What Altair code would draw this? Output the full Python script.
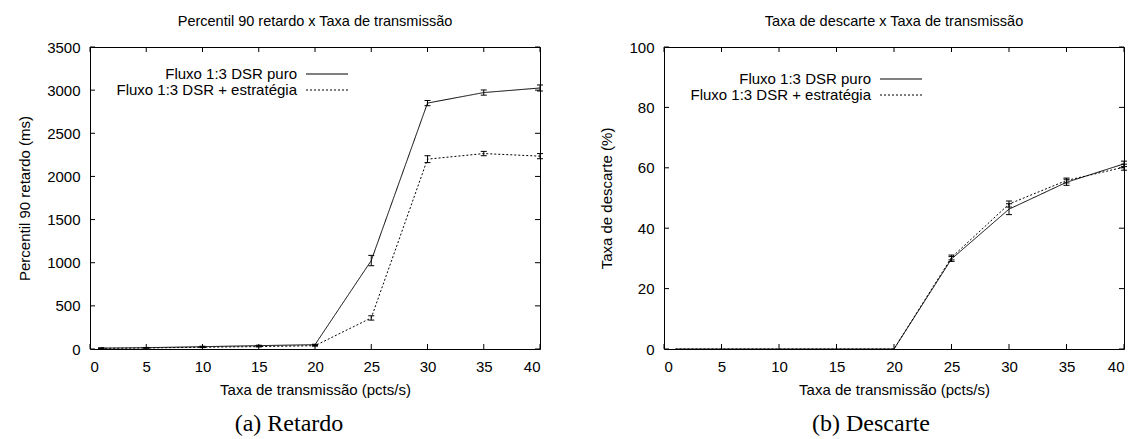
import altair as alt
import pandas as pd

# ---------------- data ----------------
x_vals = [1, 5, 10, 15, 20, 25, 30, 35, 40]

ret_puro = [10, 15, 27, 39, 50, 1025, 2850, 2972, 3025]
ret_puro_err = [3, 3, 5, 5, 5, 60, 30, 30, 35]
ret_estr = [8, 12, 20, 28, 38, 360, 2200, 2265, 2235]
ret_estr_err = [3, 3, 4, 4, 5, 25, 40, 25, 30]

desc_puro = [0, 0, 0, 0, 0, 29.8, 46.3, 55.2, 61.3]
desc_puro_err = [0, 0, 0, 0, 0, 0.8, 1.8, 1.0, 0.9]
desc_estr = [0, 0, 0, 0, 0, 30.3, 48.0, 55.8, 60.2]
desc_estr_err = [0, 0, 0, 0, 0, 0.8, 1.0, 0.8, 1.0]

series = ["Fluxo 1:3 DSR puro", "Fluxo 1:3 DSR + estratégia"]
x_ticks = [0, 5, 10, 15, 20, 25, 30, 35, 40]
ret_ticks = [0, 500, 1000, 1500, 2000, 2500, 3000, 3500]
desc_ticks = [0, 20, 40, 60, 80, 100]

FONT = "Liberation Sans"
H = 302
TICK = 5
XTITLE = "Taxa de transmissão (pcts/s)"


def make_df(a, ea, b, eb):
    rows = []
    for s, vals, errs in [(series[0], a, ea), (series[1], b, eb)]:
        for x, v, e in zip(x_vals, vals, errs):
            rows.append({"x": x, "y": v, "lo": v - e, "hi": v + e, "err": e, "serie": s})
    return pd.DataFrame(rows)


def panel(df, ymax, yticks, W, title, ytitle, caption, cap_x, leg_dy):
    xs = alt.Scale(domain=[0, 40], nice=False)
    ys = alt.Scale(domain=[0, ymax], nice=False)
    xax = alt.Axis(values=x_ticks, title=XTITLE, format="d")
    yax = alt.Axis(values=yticks, title=ytitle, format="d")

    def X(f):
        return alt.X(f, scale=xs, axis=xax)

    def Y(f):
        return alt.Y(f, scale=ys, axis=yax)

    base = alt.Chart(df)
    lines = base.mark_line(color="black", strokeWidth=1).encode(
        x=X("x:Q"), y=Y("y:Q"),
        strokeDash=alt.StrokeDash("serie:N", scale=alt.Scale(domain=series, range=[[1, 0], [2, 2]]), legend=None),
        detail="serie:N",
    )
    edf = base.transform_filter("datum.err > 0")
    err = edf.mark_rule(color="black", strokeWidth=1).encode(x=X("x:Q"), y=Y("lo:Q"), y2="hi:Q")
    cap_shape = "M-1,0L1,0"
    cap_lo = edf.mark_point(shape=cap_shape, size=36, color="black", strokeWidth=1, filled=False, opacity=1).encode(
        x=X("x:Q"), y=Y("lo:Q"))
    cap_hi = edf.mark_point(shape=cap_shape, size=36, color="black", strokeWidth=1, filled=False, opacity=1).encode(
        x=X("x:Q"), y=Y("hi:Q"))

    xt = alt.Chart(pd.DataFrame({"x": x_ticks}))
    yt = alt.Chart(pd.DataFrame({"y": yticks}))
    xtb = xt.mark_rule(color="black").encode(x=X("x:Q"), y=alt.value(H), y2=alt.value(H - TICK))
    xtt = xt.mark_rule(color="black").encode(x=X("x:Q"), y=alt.value(0), y2=alt.value(TICK))
    ytl = yt.mark_rule(color="black").encode(y=Y("y:Q"), x=alt.value(0), x2=alt.value(TICK))
    ytr = yt.mark_rule(color="black").encode(y=Y("y:Q"), x=alt.value(W), x2=alt.value(W - TICK))

    def txt(s, dy):
        return alt.Chart(pd.DataFrame({"s": [s]})).mark_text(
            align="right", baseline="middle", font=FONT, fontSize=15, color="black").encode(
            text="s:N", x=alt.value(207), y=alt.value(dy))

    def sample(dash, dy):
        kw = {"strokeDash": dash} if dash else {}
        return alt.Chart(pd.DataFrame({"s": [0]})).mark_rule(color="black", strokeWidth=1, **kw).encode(
            x=alt.value(216), x2=alt.value(258), y=alt.value(dy))

    t0 = txt(series[0], leg_dy)
    t1 = txt(series[1], leg_dy + 16)
    l0 = sample(None, leg_dy)
    l1 = sample([2, 2], leg_dy + 16)

    cap = alt.Chart(pd.DataFrame({"c": [caption]})).mark_text(
        align="center", baseline="middle", font="Liberation Serif", fontSize=24, color="black").encode(
        text="c:N", x=alt.value(cap_x), y=alt.value(H + 75))

    return alt.layer(lines, err, cap_lo, cap_hi, xtb, xtt, ytl, ytr, t0, t1, l0, l1, cap).properties(
        width=W, height=H,
        title=alt.TitleParams(title, font=FONT, fontSize=14.5, fontWeight="normal", color="black", offset=11),
    )


left = panel(make_df(ret_puro, ret_puro_err, ret_estr, ret_estr_err), 3500, ret_ticks, 450,
             "Percentil 90 retardo x Taxa de transmissão", "Percentil 90 retardo (ms)", "(a) Retardo", 199, 27)
right = panel(make_df(desc_puro, desc_puro_err, desc_estr, desc_estr_err), 100, desc_ticks, 460,
              "Taxa de descarte x Taxa de transmissão", "Taxa de descarte (%)", "(b) Descarte", 207, 32)

chart = alt.hconcat(left, right, spacing=53).properties(
    padding={"left": 17, "top": 13, "right": 5, "bottom": 0}
).configure_view(stroke="black", strokeWidth=1).configure_axis(
    domain=False, ticks=False, grid=False,
    labelFont=FONT, labelFontSize=15, labelColor="black", labelPadding=10,
    titleFont=FONT, titleFontSize=15, titleFontWeight="normal", titleColor="black",
).configure_axisY(titlePadding=14).configure_axisX(titlePadding=8)

chart.save("out.html", embed_options={"renderer": "svg", "actions": False})
